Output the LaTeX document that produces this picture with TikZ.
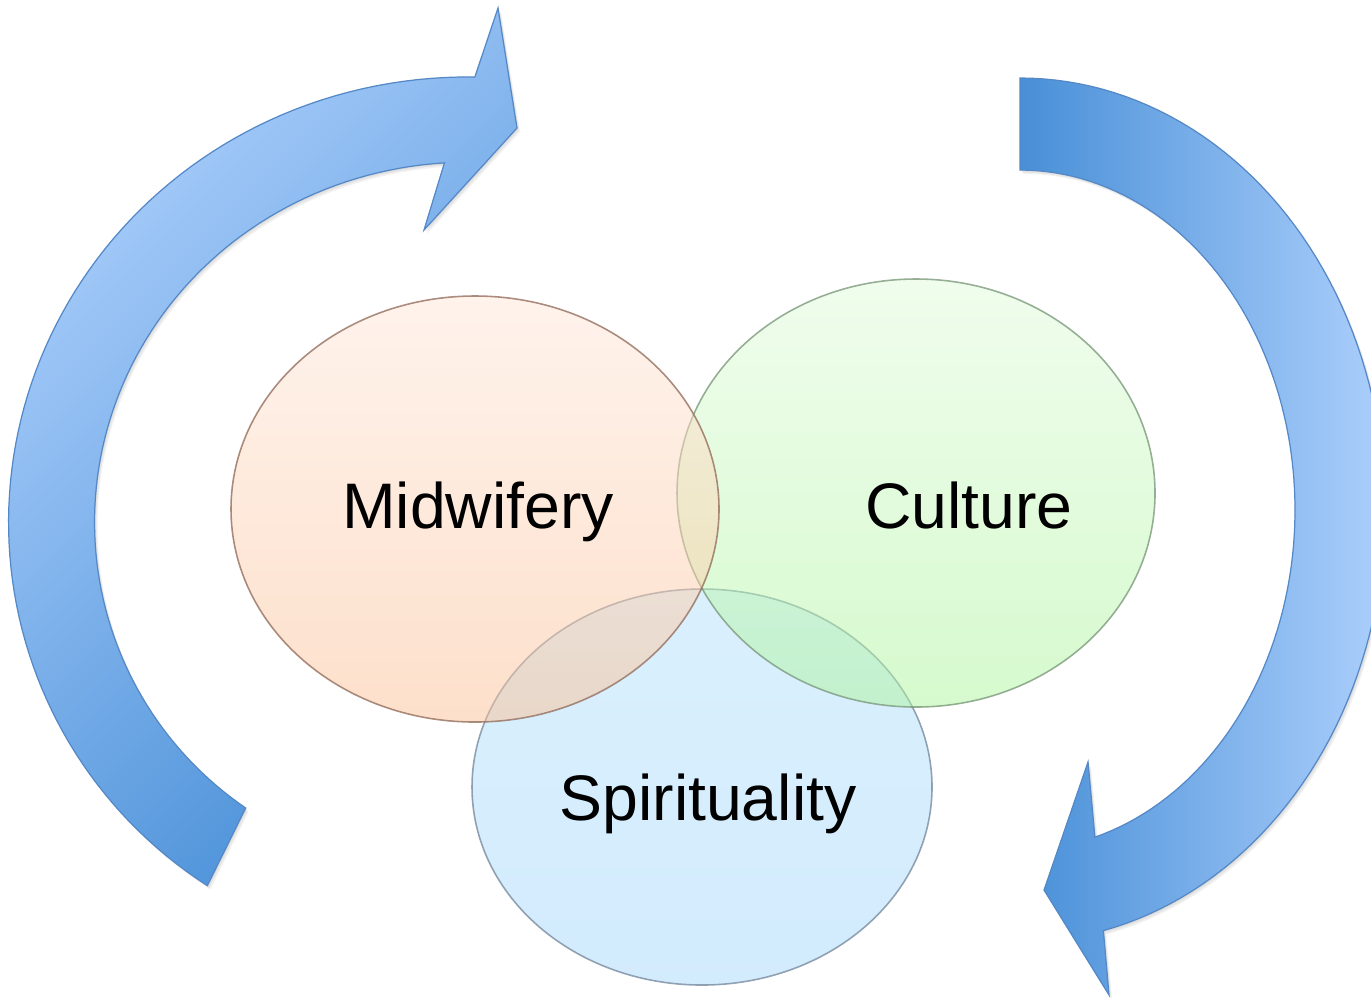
\documentclass[tikz,border=0pt]{standalone}
\usepackage{fontspec}
\setmainfont{Liberation Sans}
\begin{document}
\definecolor{arrLight}{RGB}{172,207,252}
\definecolor{arrDark}{RGB}{72,143,215}
\definecolor{arrLine}{RGB}{84,136,198}
\definecolor{midTop}{RGB}{255,231,217}
\definecolor{midBot}{RGB}{251,193,151}
\definecolor{midLine}{RGB}{150,112,95}
\definecolor{culTop}{RGB}{225,251,219}
\definecolor{culBot}{RGB}{173,245,157}
\definecolor{culLine}{RGB}{125,155,125}
\definecolor{spiTop}{RGB}{181,225,251}
\definecolor{spiBot}{RGB}{166,216,251}
\definecolor{spiLine}{RGB}{122,140,160}
% outlines of the two curved arrows (pixel-like units, y downwards)
\newcommand\arcLeftPath{
  plot[domain=-82:-240, samples=90, variable=\t]
     ({410.7+routL(\t)*cos(\t)}, {533.4+routL(\t)*sin(\t)})
  -- plot[domain=-239:-84.8, samples=90, variable=\t]
     ({410.7+rinL(\t)*cos(\t)}, {533.4+rinL(\t)*sin(\t)})
  -- (424,230) -- (517,128) -- (498,8) -- cycle}
\newcommand\arcRightPath{
  plot[domain=-90:76.8, samples=90, variable=\t]
     ({1020+365*cos(\t)}, {510+432*sin(\t)})
  -- (1109,995) -- (1044,890) -- (1088,762)
  -- plot[domain=74.2:-90, samples=90, variable=\t]
     ({1020+275*cos(\t)}, {510+340*sin(\t)})
  -- cycle}
\begin{tikzpicture}[x=0.01cm,y=-0.01cm,
  declare function={routL(\t)=402+0.1798*(\t+180)+0.004308*(\t+180)*(\t+180);
                    rinL(\t)=routL(\t)-86;},
  bandarrow/.style={draw=arrLine, line width=0.35pt, line join=miter},
  softshadow/.style={fill=black, fill opacity=0.05},
  venn/.style={line width=0.45pt, fill opacity=0.5, draw opacity=0.8},
  lbl/.style={font=\fontsize{18.3pt}{22pt}\selectfont, text=black, inner sep=0pt, anchor=base}]
\useasboundingbox (0,0) rectangle (1371,999);
\clip (0,0) rectangle (1371,999);

% faint shadows under the arrows
\foreach \d in {1,2,3} {
  \fill[softshadow, shift={(\d,1.3*\d)}] \arcLeftPath;
  \fill[softshadow, shift={(\d,1.3*\d)}] \arcRightPath;
}

% left circular arrow, head pointing right at the top
\shadedraw[bandarrow, top color=arrLight, bottom color=arrDark, shading angle=45] \arcLeftPath;

% right circular arrow, head pointing left at the bottom
\shadedraw[bandarrow, left color=arrDark, right color=arrLight] \arcRightPath;

% the three overlapping sets
\shadedraw[venn, draw=spiLine, top color=spiTop, bottom color=spiBot] (702,787) ellipse [x radius=230, y radius=198];
\shadedraw[venn, draw=culLine, top color=culTop, bottom color=culBot] (916,493) ellipse [x radius=239, y radius=214];
\shadedraw[venn, draw=midLine, top color=midTop, bottom color=midBot] (475,509) ellipse [x radius=244, y radius=213];

% set labels
\node[lbl] (tmid) at (478,528) {Midwifery};
\node[lbl] (tcul) at (969,528) {Culture};
\node[lbl] (tspi) at (708,820) {Spirituality};
\end{tikzpicture}
\end{document}
